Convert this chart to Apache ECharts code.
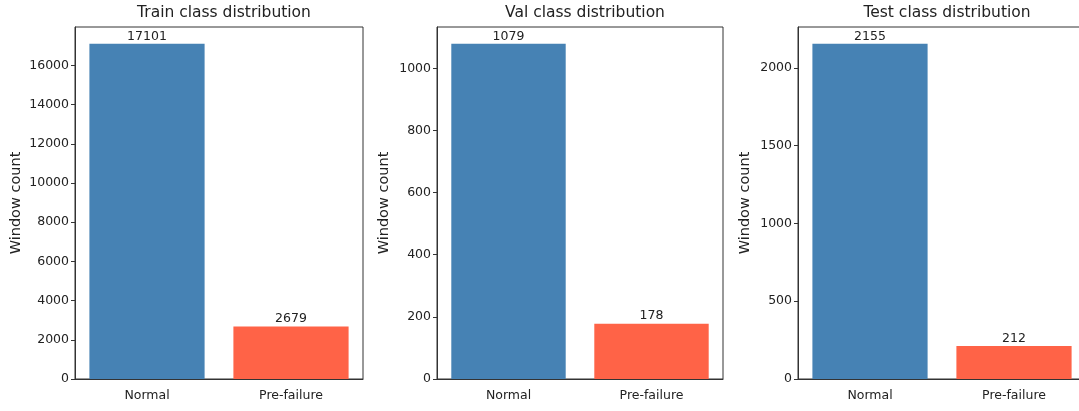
<!DOCTYPE html>
<html>
<head>
<meta charset="utf-8">
<script src="https://cdn.jsdelivr.net/npm/echarts@6/dist/echarts.min.js"></script>
<style>
  html, body { margin: 0; padding: 0; background: #fff; }
  #chart { width: 1079px; height: 411px; }
</style>
</head>
<body>
<div id="chart"></div>
<script>
const categories = ["Normal", "Pre-failure"];
const trainCounts = [17101, 2679];
const valCounts = [1079, 178];
const testCounts = [2155, 212];
const trainTicks = [0, 2000, 4000, 6000, 8000, 10000, 12000, 14000, 16000];
const valTicks = [0, 200, 400, 600, 800, 1000];
const testTicks = [0, 500, 1000, 1500, 2000];
const titles = ["Train class distribution", "Val class distribution", "Test class distribution"];
const barColors = ["#4682B4", "#FF6347"];

const font = "DejaVu Sans";
const textColor = "#222";
const frameColor = "#333";

// panel layout (px), matplotlib-like; last panel runs past the right edge
const panels = [
  { left: 75, width: 288, nameGap: 51, counts: trainCounts, ticks: trainTicks },
  { left: 437, width: 286, nameGap: 45, counts: valCounts, ticks: valTicks },
  { left: 798, width: 288, nameGap: 45, counts: testCounts, ticks: testTicks },
];

const chart = echarts.init(document.getElementById("chart"));

const option = {
  animation: false,
  textStyle: { fontFamily: font },
  title: panels.map((p, i) => ({
    text: titles[i],
    left: p.left + p.width / 2,
    top: 0,
    textAlign: "center",
    textStyle: { fontFamily: font, fontSize: 15.5, fontWeight: "normal", color: textColor },
  })),
  grid: panels.map((p) => ({
    left: p.left,
    width: p.width,
    top: 27,
    bottom: 32,
    outerBoundsMode: "none",
    show: true,
    borderColor: frameColor,
    borderWidth: 1,
    backgroundColor: "transparent",
  })),
  xAxis: panels.map((p, i) => ({
    type: "category",
    gridIndex: i,
    data: categories,
    axisLine: { lineStyle: { color: frameColor } },
    axisTick: { alignWithLabel: true, length: 4, lineStyle: { color: frameColor } },
    axisLabel: { fontFamily: font, fontSize: 12.5, color: textColor, margin: 10 },
  })),
  yAxis: panels.map((p, i) => ({
    type: "value",
    gridIndex: i,
    min: 0,
    max: Math.max(...p.counts) * 1.05, // 5% headroom, like matplotlib
    name: "Window count",
    nameLocation: "middle",
    nameGap: p.nameGap,
    nameTextStyle: { fontFamily: font, fontSize: 14.5, color: textColor },
    splitLine: { show: false },
    axisLine: { show: true, lineStyle: { color: frameColor } },
    axisTick: { show: true, length: 4, lineStyle: { color: frameColor }, customValues: p.ticks },
    axisLabel: {
      fontFamily: font,
      fontSize: 12.5,
      color: textColor,
      margin: 6,
      customValues: p.ticks,
      formatter: (v) => String(v),
    },
  })),
  series: panels.map((p, i) => ({
    type: "bar",
    xAxisIndex: i,
    yAxisIndex: i,
    barWidth: "80%",
    data: p.counts.map((v, j) => ({ value: v, itemStyle: { color: barColors[j] } })),
    label: {
      show: true,
      position: "top",
      distance: 1,
      fontFamily: font,
      fontSize: 12.5,
      color: textColor,
    },
  })),
};

chart.setOption(option);
</script>
</body>
</html>
